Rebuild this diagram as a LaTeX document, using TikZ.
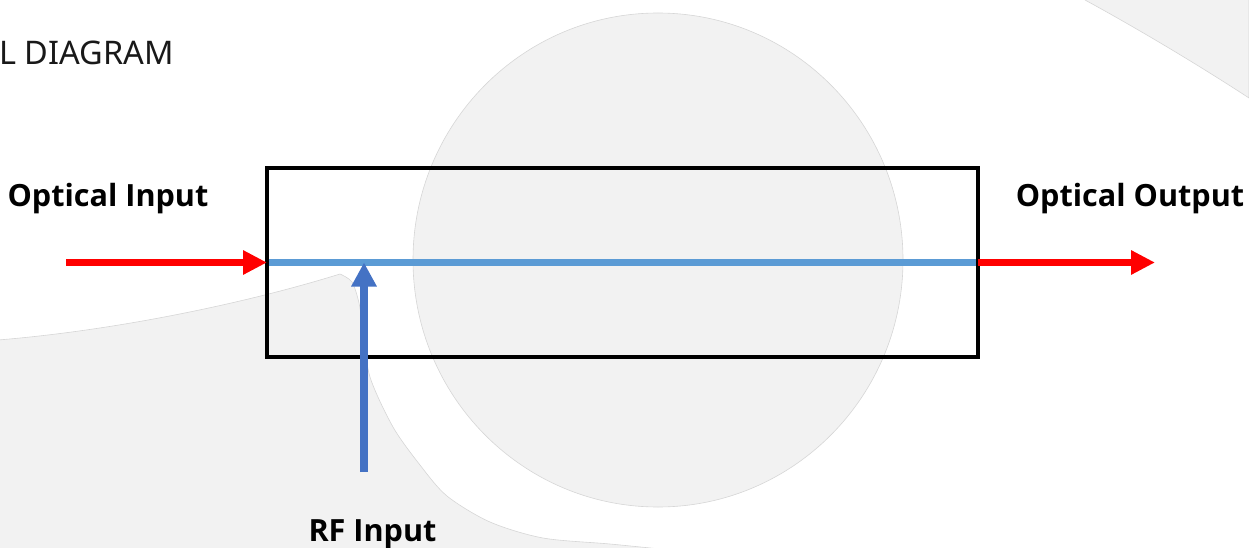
\documentclass[tikz,border=0pt]{standalone}
\usepackage{fontspec}
\setmainfont{Open Sans}
\newfontfamily\titlefont{Noto Sans}
\usetikzlibrary{arrows.meta}
\definecolor{bggray}{HTML}{F2F2F2}
\definecolor{bgedge}{HTML}{D6D6D6}
\definecolor{fiber}{HTML}{5B9BD5}
\definecolor{rfblue}{HTML}{4472C4}
\definecolor{optred}{HTML}{FF0000}
\tikzset{
  bgshape/.style={fill=bggray, draw=bgedge, line width=0.6pt},
  lbl/.style={font=\bfseries\fontsize{30.6}{35}\selectfont, text=black, inner sep=0pt, anchor=base},
  optarrow/.style={draw=optred, line width=7pt, -{Triangle[length=24pt,width=23pt]}},
  rfarrow/.style={draw=rfblue, line width=8pt, -{Triangle[length=24pt,width=24pt]}},
  fiberline/.style={draw=fiber, line width=7pt},
  devbox/.style={draw=black, line width=4pt, minimum width=711pt, minimum height=189pt, inner sep=0pt, outer sep=0pt}
}
\begin{document}
\begin{tikzpicture}[x=1pt,y=-1pt]
\useasboundingbox (0,0) rectangle (1249,548);
% background shapes
\path[bgshape] (658,260) ellipse [x radius=245, y radius=247];
\path[bgshape] (1085,0) .. controls (1140,30) and (1200,66) .. (1249,98) -- (1249,-2) -- (1085,-2);
\path[bgshape] (-2,340) .. controls (120,330) and (250,302) .. (340,274)
  -- plot[smooth] coordinates {(340,274) (352,282) (359,303) (363,330) (370,377) (393,427) (420,465) (447,496) (490,522) (543,538) (610,544) (670,550)}
  -- (-2,550) -- cycle;
% title fragment
\node[font=\titlefont\fontsize{32.5}{37}\selectfont, text=black!90, inner sep=0pt, anchor=base west] (title) at (-1,65) {L DIAGRAM};
% device
\node[devbox] (box) at (622.5,262.5) {};
\draw[fiberline] (box.west) -- (box.east);
\node[devbox] at (box.center) {};
\coordinate (inL) at (66,262.5);
\coordinate (outR) at (1155,262.5);
\coordinate (rfS) at (364,472);
\coordinate (rfT) at (364,262.5);
\draw[optarrow] (inL) -- (box.west);
\draw[optarrow] (box.east) -- (outR);
\draw[rfarrow] (rfS) -- (rfT);
% labels
\node[lbl] (oin) at (108,207) {Optical Input};
\node[lbl] (oout) at (1130,207) {Optical Output};
\node[lbl] (rfin) at (372.5,541) {RF Input};
\end{tikzpicture}
\end{document}
